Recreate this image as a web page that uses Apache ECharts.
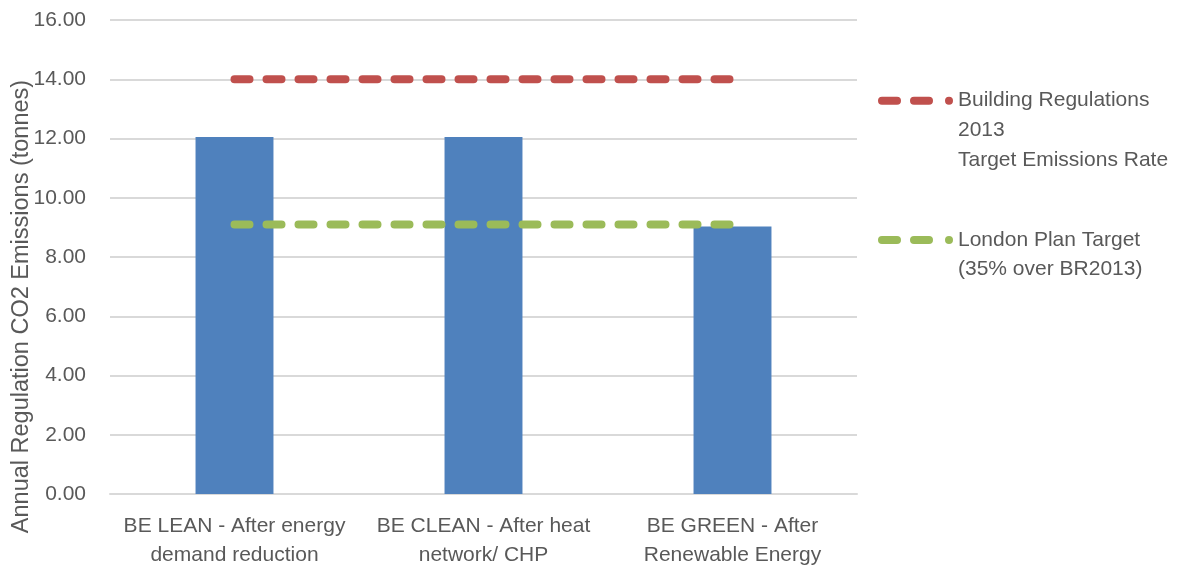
<!DOCTYPE html>
<html>
<head>
<meta charset="utf-8">
<script src="https://cdn.jsdelivr.net/npm/echarts@6/dist/echarts.min.js"></script>
<style>
html,body{margin:0;padding:0;background:#fff;}
#chart{width:1180px;height:570px;}
</style>
</head>
<body>
<div id="chart"></div>
<script>
const categories = [
  'BE LEAN - After energy\ndemand reduction',
  'BE CLEAN - After heat\nnetwork/ CHP',
  'BE GREEN - After\nRenewable Energy'
];
const emissions = [12.05, 12.05, 9.03];
const brTarget = [14.0, 14.0, 14.0];
const londonTarget = [9.1, 9.1, 9.1];
const brName = 'Building Regulations\n2013\nTarget Emissions Rate';
const lpName = 'London Plan Target\n(35% over BR2013)';
const yAxisTitle = 'Annual Regulation CO2 Emissions (tonnes)';

const FONT = '"Liberation Sans", Arial, sans-serif';
const TXT = '#595959';
const dashIcon = 'path://M4,0 L19,0 A4,4 0 0 1 19,8 L4,8 A4,4 0 0 1 4,0 Z M36,0 L51,0 A4,4 0 0 1 51,8 L36,8 A4,4 0 0 1 36,0 Z M71,0 A4,4 0 0 1 71,8 A4,4 0 0 1 71,0 Z';
const LH = 29.7;

const chart = echarts.init(document.getElementById('chart'), null, {renderer: 'canvas'});
chart.setOption({
  animation: false,
  backgroundColor: '#ffffff',
  textStyle: {fontFamily: FONT},
  grid: {left: 110, right: 323, top: 20, bottom: 76, containLabel: false, outerBoundsMode: 'none'},
  xAxis: {
    type: 'category',
    data: categories,
    axisLine: {lineStyle: {color: '#d9d9d9', width: 2}},
    axisTick: {show: false},
    axisLabel: {color: TXT, fontSize: 21, lineHeight: 29, margin: 18, fontFamily: FONT, interval: 0}
  },
  yAxis: {
    type: 'value',
    min: 0, max: 16, interval: 2,
    name: yAxisTitle,
    nameLocation: 'middle',
    nameRotate: 90,
    nameGap: 76,
    nameMoveOverlap: false,
    nameTextStyle: {color: TXT, fontSize: 23.5, fontFamily: FONT, padding: [0, 99, 0, 0]},
    axisLine: {show: false},
    axisTick: {show: false},
    splitLine: {lineStyle: {color: '#d9d9d9', width: 2}},
    axisLabel: {color: TXT, fontSize: 21, margin: 24, fontFamily: FONT,
      formatter: v => v.toFixed(2)}
  },
  legend: [
    {
      left: 878, top: 100.7 - 2.5 * LH, padding: 0, orient: 'vertical',
      itemWidth: 75, itemHeight: 8, itemGap: 0,
      itemStyle: {borderWidth: 0},
      data: [{name: brName, icon: dashIcon}],
      formatter: n => '\n\n' + n,
      textStyle: {color: TXT, fontSize: 21, lineHeight: LH, fontFamily: FONT}
    },
    {
      left: 878, top: 240 - 1.5 * LH, padding: 0, orient: 'vertical',
      itemWidth: 75, itemHeight: 8, itemGap: 0,
      itemStyle: {borderWidth: 0},
      data: [{name: lpName, icon: dashIcon}],
      formatter: n => '\n' + n,
      textStyle: {color: TXT, fontSize: 21, lineHeight: LH, fontFamily: FONT}
    }
  ],
  series: [
    {
      name: 'Emissions',
      type: 'bar',
      data: emissions,
      barWidth: '31.3%',
      itemStyle: {color: '#4f81bd'},
      z: 2
    },
    {
      name: brName,
      type: 'line',
      data: brTarget,
      symbol: 'none',
      color: '#c0504d',
      itemStyle: {color: '#c0504d'},
      lineStyle: {color: '#c0504d', width: 8, type: [15, 17], cap: 'round'},
      z: 3
    },
    {
      name: lpName,
      type: 'line',
      data: londonTarget,
      symbol: 'none',
      color: '#9bbb59',
      itemStyle: {color: '#9bbb59'},
      lineStyle: {color: '#9bbb59', width: 8, type: [15, 17], cap: 'round'},
      z: 3
    }
  ]
});
</script>
</body>
</html>
